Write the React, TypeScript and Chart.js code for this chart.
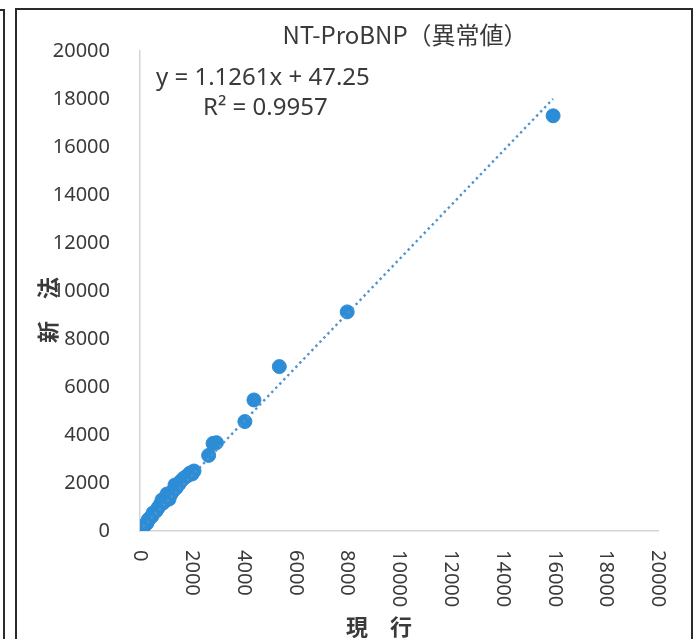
import React, { useEffect, useRef } from "react";
import { Chart, registerables } from "chart.js";

Chart.register(...registerables);

// 現行 (x) values
const currentMethod = [
  116, 193, 270, 309, 386, 463, 502, 618, 695, 772, 888, 849, 1004, 1081, 1042,
  1197, 1274, 1390, 1351, 1506, 1583, 1699, 1815, 1931, 2085, 2008, 1120,
  2650, 2820, 2950, 4050, 4400, 5380, 8000, 15950,
];
// 新法 (y) values
const newMethod = [
  125, 250, 333, 458, 542, 625, 750, 833, 958, 1083, 1167, 1292, 1292, 1417, 1542,
  1542, 1667, 1792, 1917, 1958, 2083, 2208, 2292, 2417, 2500, 2375, 1330,
  3150, 3650, 3680, 4560, 5460, 6850, 9130, 17300,
];
const axisTicks = [0, 2000, 4000, 6000, 8000, 10000, 12000, 14000, 16000, 18000, 20000];
const titleText = "NT-ProBNP（異常値）";
const xTitle = "現　行";
const yTitle = "新　法";
const slope = 1.1261;
const intercept = 47.25;
const r2 = 0.9957;

export default function App() {
  const ref = useRef<HTMLCanvasElement | null>(null);

  useEffect(() => {
    if (!ref.current) return;
    const points = currentMethod.map((x, i) => ({ x, y: newMethod[i] }));
    const xmin = Math.min(...currentMethod);
    const xmax = Math.max(...currentMethod);
    const trend = [
      { x: xmin, y: slope * xmin + intercept },
      { x: xmax, y: slope * xmax + intercept },
    ];
    const eq = `y = ${slope}x + ${intercept}`;
    const r2Text = `R² = ${r2}`;

    const overlay = {
      id: "overlay",
      afterDraw(chart: any) {
        const ctx = chart.ctx;
        const xs = chart.scales.x;
        ctx.save();
        ctx.fillStyle = "#3a3a3a";
        // x tick labels, rotated clockwise
        ctx.font = "20px 'Noto Sans'";
        for (const v of axisTicks) {
          const px = xs.getPixelForValue(v);
          ctx.save();
          ctx.translate(px, xs.top + 19);
          ctx.rotate(Math.PI / 2);
          ctx.textAlign = "left";
          ctx.textBaseline = "middle";
          ctx.fillText(String(v), 0, 0);
          ctx.restore();
        }
        // axis titles
        ctx.font = "bold 22px 'Noto Sans CJK JP'";
        ctx.textAlign = "center";
        ctx.textBaseline = "middle";
        ctx.fillText(xTitle, 379, 627);
        ctx.save();
        ctx.translate(48, 310);
        ctx.rotate(-Math.PI / 2);
        ctx.fillText(yTitle, 0, 0);
        ctx.restore();
        // chart title
        ctx.font = "24px 'Noto Sans CJK JP'";
        ctx.fillText(titleText, 405, 35);
        // equation
        ctx.font = "24px 'Noto Sans'";
        ctx.textAlign = "left";
        ctx.fillText(eq, 156, 78);
        ctx.fillText(r2Text, 203, 108);
        ctx.restore();
      },
    };

    const chart = new Chart(ref.current, {
      type: "scatter",
      data: {
        datasets: [
          {
            type: "line",
            data: trend,
            borderColor: "#4d93d0",
            borderWidth: 2.4,
            borderDash: [2.4, 3.4],
            pointRadius: 0,
            fill: false,
            order: 0,
          } as any,
          {
            data: points,
            backgroundColor: "#2d8cd6",
            borderColor: "#2d8cd6",
            pointRadius: 7,
            pointHoverRadius: 7,
            order: 1,
          },
        ],
      },
      options: {
        animation: false,
        responsive: false,
        events: [],
        layout: { padding: { left: 0, top: 51, right: 41, bottom: 0 } },
        plugins: { legend: { display: false }, tooltip: { enabled: false }, title: { display: false } },
        scales: {
          x: {
            type: "linear",
            min: 0,
            max: 20000,
            ticks: { display: false, stepSize: 2000 },
            grid: { display: false },
            border: { display: true, color: "#d4d4d4", width: 1.5 },
            afterFit: (s: any) => {
              s.height = 108;
            },
          },
          y: {
            type: "linear",
            min: 0,
            max: 20000,
            ticks: {
              stepSize: 2000,
              padding: 22,
              color: "#3a3a3a",
              font: { family: "'Noto Sans'", size: 20 },
              callback: (v: any) => String(v),
            },
            grid: { display: false },
            border: { display: true, color: "#d4d4d4", width: 1.5 },
            afterFit: (s: any) => {
              s.width = 140;
            },
          },
        },
      },
      plugins: [overlay],
    });
    return () => chart.destroy();
  }, []);

  return (
    <div style={{ position: "fixed", left: 0, top: 0, width: 699, height: 639, background: "#fff", overflow: "hidden" }}>
      <canvas ref={ref} width={699} height={639} style={{ position: "absolute", left: 0, top: 0, width: 699, height: 639 }} />
      <div style={{ position: "absolute", left: 3, top: 9, width: 2, height: 640, background: "#2a2a2a" }} />
      <div style={{ position: "absolute", left: 0, top: 9, width: 5, height: 2, background: "#2a2a2a" }} />
      <div
        style={{
          position: "absolute",
          left: 15,
          top: 8,
          width: 678,
          height: 700,
          border: "2px solid #2a2a2a",
          boxSizing: "border-box",
          pointerEvents: "none",
        }}
      />
    </div>
  );
}
